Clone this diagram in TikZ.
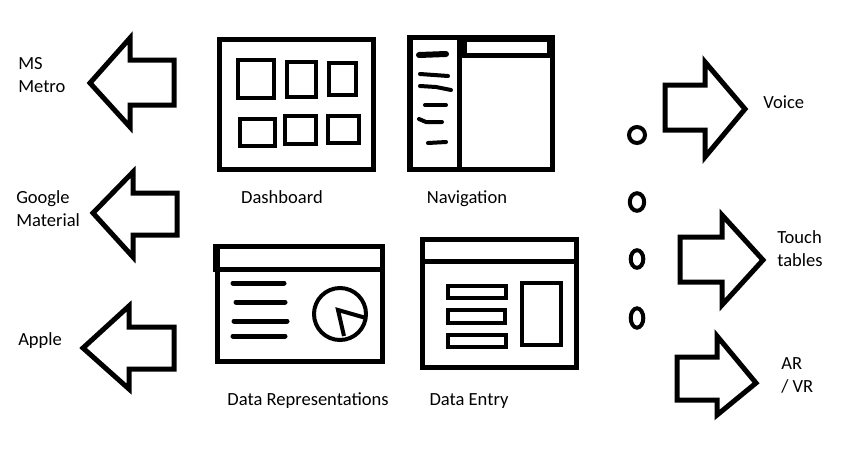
\documentclass[tikz,border=0pt]{standalone}
\usepackage{fontspec}
\setmainfont{Carlito}
\usepackage{tikz}
\usepackage{xcolor}
\tikzset{
    sketch-line/.style = {draw=black, line width=3.75pt, line join=miter},
    sketch-thin/.style = {draw=black, line width=3pt, line join=miter},
    scribble/.style = {draw=black, line width=3pt, line cap=round},
    caption-text/.style = {inner sep=0pt, anchor=base, font=\fontsize{13.9}{17.3}\selectfont},
    side-text/.style = {caption-text, anchor=west, align=left},
}

\begin{document}
\begin{tikzpicture}[x=0.75pt,y=-0.75pt]
\useasboundingbox (0,0) rectangle (862,461);

% styles pointing left
\draw[sketch-line] (174,60) -- (130,60) -- (130,38) -- (90,83) -- (130,127) -- (130,105) -- (174,105) -- cycle;
\draw[sketch-line] (177,193) -- (133,193) -- (133,172) -- (93,213) -- (133,257) -- (133,235) -- (177,235) -- cycle;
\draw[sketch-line] (174,327) -- (129,327) -- (129,306) -- (83,348) -- (129,389) -- (129,369) -- (174,369) -- cycle;
\node[side-text] (metro) at (18,75) {MS\\Metro};
\node[side-text] (material) at (16,209) {Google\\Material};
\node[side-text] (apple) at (18,341) {Apple};

% dashboard
\draw[sketch-line] (219,39) rectangle (373,169);
\draw[sketch-thin] (238,60) rectangle (274,98);
\draw[sketch-thin] (287,62) rectangle (316,97);
\draw[sketch-thin] (329,63) rectangle (356,95);
\draw[sketch-thin] (240,119) rectangle (275,146);
\draw[sketch-thin] (285,116) rectangle (316,144);
\draw[sketch-thin] (328,116) rectangle (359,143);
\node[caption-text] (dashboard) at (282,203) {Dashboard};

% navigation
\fill[black] (407,35) rectangle (555,172);
\fill[white] (413.3,40) rectangle (456.7,166.7);
\fill[white] (461.7,58.3) rectangle (550,166.7);
\fill[white] (466.7,41.7) rectangle (546.7,53.3);
\draw[scribble, line width=4.5pt] (419,55) -- (446,54);
\draw[scribble] (420,74) -- (448,76);
\draw[scribble] (420,86) -- (436,87) -- (451,90);
\draw[scribble] (425,105) -- (446,105);
\draw[scribble] (419,119) -- (426,122) -- (442,122);
\draw[scribble] (428,143) -- (446,142);
\node[caption-text] (navigation) at (467,203) {Navigation};

% data representations
\draw[sketch-line] (217.5,246) rectangle (382.5,361);
\draw[sketch-line] (217.5,269) -- (382.5,269);
\draw[sketch-line] (215,243.5) -- (215,271.5);
\draw[scribble, line width=3.75pt] (233,283) -- (284,283);
\draw[scribble, line width=3.75pt] (236,302) -- (285,302);
\draw[scribble, line width=3.75pt] (234,321) -- (287,321);
\draw[scribble, line width=3.75pt] (233,336) -- (285,336);
\draw[sketch-thin] (340,314) circle (26);
\draw[sketch-thin] (366,318) -- (338,310) -- (344,336);
\node[caption-text] (representations) at (308,405.5) {Data Representations};

% data entry
\draw[sketch-line] (422.5,239) rectangle (576,367.5);
\draw[sketch-line] (422.5,261) -- (576,261);
\draw[sketch-thin] (448,285.5) rectangle (506,298);
\draw[sketch-thin] (448,309.5) rectangle (504.5,323);
\draw[sketch-thin] (448,335) rectangle (506,347);
\draw[sketch-thin] (522,283) rectangle (561,345);
\node[caption-text] (entry) at (469,405.5) {Data Entry};

% dots
\draw[sketch-thin] (637,135) ellipse (8 and 8);
\draw[sketch-thin] (637,202) ellipse (7.2 and 8.8);
\draw[sketch-thin] (637,259) ellipse (6.3 and 8.8);
\draw[sketch-thin] (637,318) ellipse (6.3 and 9.7);

% modes pointing right
\draw[sketch-line] (665,85) -- (705,85) -- (705,62) -- (745,109) -- (705,157) -- (705,130) -- (665,130) -- cycle;
\draw[sketch-line] (680,237) -- (722,237) -- (722,215) -- (763,260) -- (722,305) -- (722,282) -- (680,282) -- cycle;
\draw[sketch-line] (677,357) -- (717,357) -- (717,336) -- (756,383) -- (717,415) -- (717,400) -- (677,400) -- cycle;
\node[side-text] (voice) at (763,102) {Voice};
\node[side-text] (touch) at (777,249) {Touch\\tables};
\node[side-text] (arvr) at (781,375) {AR\\/ VR};
\end{tikzpicture}
\end{document}
